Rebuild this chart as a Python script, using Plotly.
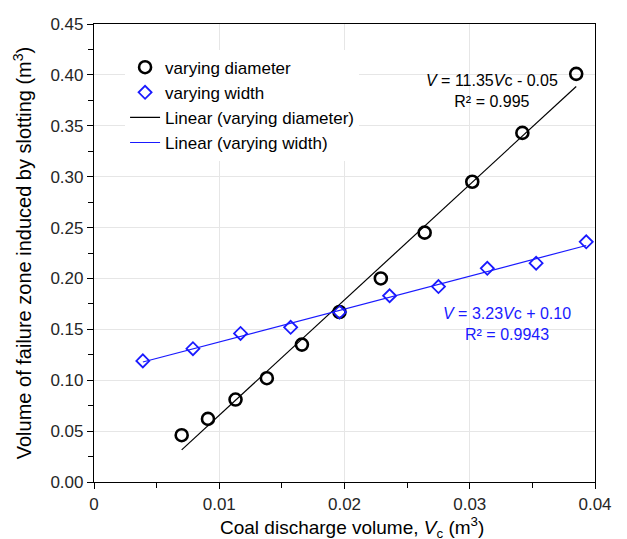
import numpy as np
import plotly.graph_objects as go

# Data
diam_x = [0.0070, 0.0091, 0.0113, 0.0138, 0.0166, 0.0196, 0.0229, 0.0264, 0.0302, 0.0342, 0.0385]
diam_y = [0.046, 0.062, 0.081, 0.102, 0.135, 0.167, 0.200, 0.245, 0.295, 0.343, 0.401]
width_x = [0.0039, 0.0079, 0.0117, 0.0157, 0.0196, 0.0236, 0.0275, 0.0314, 0.0353, 0.0393]
width_y = [0.119, 0.131, 0.146, 0.152, 0.167, 0.183, 0.192, 0.210, 0.215, 0.236]

x_ticks = [0, 0.01, 0.02, 0.03, 0.04]
x_labels = ["0", "0.01", "0.02", "0.03", "0.04"]

BLUE = "#1a1aff"
FONT = "Arial, Liberation Sans, sans-serif"

kd, bd = np.polyfit(diam_x, diam_y, 1)
kw, bw = np.polyfit(width_x, width_y, 1)
fx_d = [min(diam_x), max(diam_x)]
fx_w = [min(width_x), max(width_x)]

fig = go.Figure()
fig.add_trace(go.Scatter(x=diam_x, y=diam_y, mode="markers", name="varying diameter", legendgroup="a",
                         marker=dict(symbol="circle-open", size=12, color="black",
                                     line=dict(width=2.6, color="black"))))
fig.add_trace(go.Scatter(x=width_x, y=width_y, mode="markers", name="varying width", legendgroup="b",
                         marker=dict(symbol="diamond-open", size=10, color=BLUE,
                                     line=dict(width=1.8, color=BLUE))))
fig.add_trace(go.Scatter(x=fx_d, y=[kd * v + bd for v in fx_d], mode="lines", legendgroup="c",
                         name="Linear (varying diameter)", line=dict(color="black", width=1.2)))
fig.add_trace(go.Scatter(x=fx_w, y=[kw * v + bw for v in fx_w], mode="lines", legendgroup="d",
                         name="Linear (varying width)", line=dict(color=BLUE, width=1.2)))

fig.add_annotation(x=0.0318, y=0.384, xref="x", yref="y", showarrow=False,
                   text="<i>V</i> = 11.35<i>V</i>c - 0.05<br>R² = 0.995",
                   font=dict(family=FONT, size=16, color="black"), align="center")
fig.add_annotation(x=0.0330, y=0.155, xref="x", yref="y", showarrow=False,
                   text="<i>V</i> = 3.23<i>V</i>c + 0.10<br>R² = 0.9943",
                   font=dict(family=FONT, size=16, color=BLUE), align="center")
# x-axis title placed as a paper annotation below the tick labels
fig.add_annotation(x=0.515, y=0, xref="paper", yref="paper", showarrow=False,
                   xanchor="center", yanchor="top", yshift=-29.5,
                   text="Coal discharge volume, <i>V</i><sub>c</sub> (m<sup>3</sup>)",
                   font=dict(family=FONT, size=19, color="black"))

axis_common = dict(showline=True, linecolor="black", linewidth=1.2, mirror=True,
                   showgrid=True, gridcolor="#e6e6e6", gridwidth=1, automargin=False,
                   ticks="outside", ticklen=6, tickcolor="black", zeroline=False,
                   tickfont=dict(family=FONT, size=17, color="#262626"))

fig.update_xaxes(range=[0, 0.04], tickvals=x_ticks, ticktext=x_labels,
                 minor=dict(dtick=0.005, ticks="outside", ticklen=5, tickcolor="black", showgrid=False),
                 **axis_common)
fig.update_yaxes(range=[0, 0.45], dtick=0.05, tickformat=".2f",
                 minor=dict(dtick=0.025, ticks="outside", ticklen=5, tickcolor="black", showgrid=False),
                 title=dict(text="Volume of failure zone induced by slotting (m<sup>3</sup>)",
                            font=dict(family=FONT, size=20, color="black"), standoff=13),
                 **axis_common)

fig.update_layout(width=627, height=539, margin=dict(l=94, r=32, t=24, b=57),
                  plot_bgcolor="white", paper_bgcolor="white",
                  font=dict(family=FONT),
                  legend=dict(x=0.062, y=0.944, xanchor="left", yanchor="top",
                              bgcolor="white", borderwidth=0, tracegroupgap=0,
                              font=dict(family=FONT, size=17, color="black"),
                              itemwidth=30))

fig.write_html("out.html")
